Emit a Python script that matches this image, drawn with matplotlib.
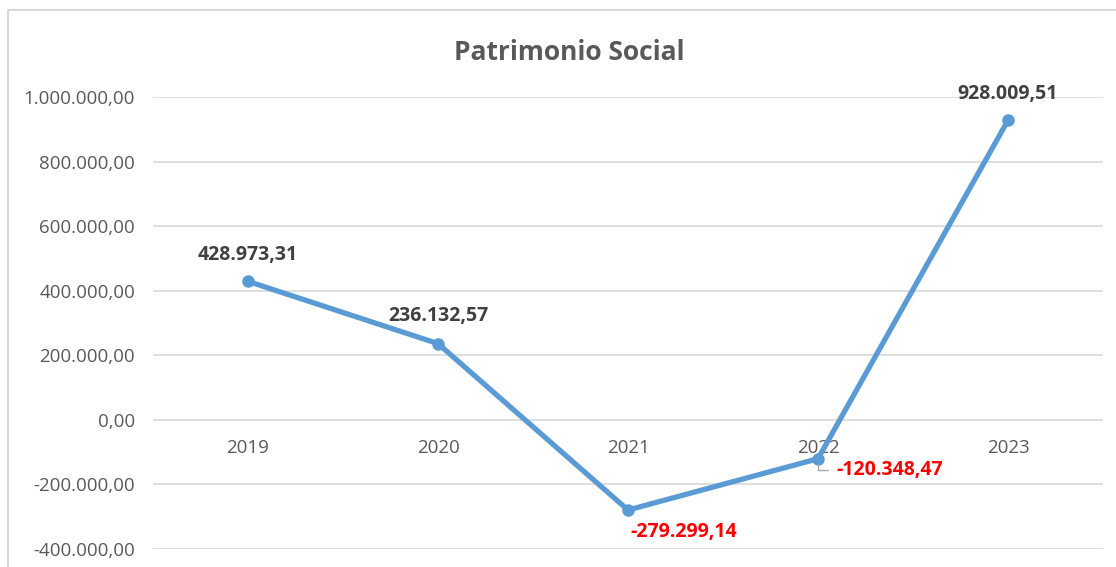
import matplotlib.pyplot as plt
from matplotlib.patches import Rectangle

years = ['2019', '2020', '2021', '2022', '2023']
patrimonio = [428973.31, 236132.57, -279299.14, -120348.47, 928009.51]
label_text = ['428.973,31', '236.132,57', '-279.299,14', '-120.348,47', '928.009,51']

yticks = [-400000, -200000, 0, 200000, 400000, 600000, 800000, 1000000]


def fmt_es(v):
    # 1.000.000,00 style
    s = '{:,.2f}'.format(v)
    return s.replace(',', 'X').replace('.', ',').replace('X', '.')


plt.rcParams['font.family'] = ['Open Sans', 'DejaVu Sans']

fig = plt.figure(figsize=(11.16, 5.67), dpi=100)
ax = fig.add_axes([153 / 1116, 1 - 549 / 567, 950 / 1116, 452 / 567])

x = list(range(len(years)))
ax.plot(x, patrimonio, color='#5B9BD5', lw=3.8, marker='o', ms=8,
        solid_capstyle='round', zorder=3)

ax.set_xlim(-0.5, 4.5)
ax.set_ylim(-400000, 1000000)
ax.set_yticks(yticks)
ax.set_yticklabels([fmt_es(v) for v in yticks])
ax.grid(axis='y', color='#D9D9D9', lw=1.2)
ax.set_axisbelow(True)
for sp in ax.spines.values():
    sp.set_visible(False)

ax.set_xticks(x)
ax.set_xticklabels(years)
ax.spines['bottom'].set_position(('data', 0))
ax.tick_params(axis='x', length=0, pad=14, labelsize=13.5, labelcolor='#595959')
ax.tick_params(axis='y', length=0, pad=13, labelsize=13.5, labelcolor='#595959')

# data labels
offsets = [(0, 19), (0, 20), (2, -16), (13, -8), (0, 19)]
aligns = ['center', 'center', 'left', 'left', 'center']
for i, v in enumerate(patrimonio):
    col = '#FF0000' if v < 0 else '#404040'
    kw = {}
    if i == 3:
        kw['arrowprops'] = dict(arrowstyle='-', color='#A6A6A6', lw=1,
                                connectionstyle='angle,angleA=0,angleB=90,rad=0',
                                relpos=(0, 0.5), shrinkA=4, shrinkB=4)
    ax.annotate(label_text[i], (i, v), xytext=offsets[i], textcoords='offset points',
                ha=aligns[i], va='center', fontsize=14, fontweight='bold', color=col, **kw)

fig.text(569 / 1116, 1 - 52 / 567, 'Patrimonio Social', ha='center', va='center',
         fontsize=19, fontweight='bold', color='#595959')

fig.patches.append(Rectangle((8 / 1116, -0.1), 1.2, 1.1 - 10 / 567, transform=fig.transFigure,
                             fill=False, ec='#D9D9D9', lw=1.5))

fig.savefig('out.png', dpi=100)
plt.close()
